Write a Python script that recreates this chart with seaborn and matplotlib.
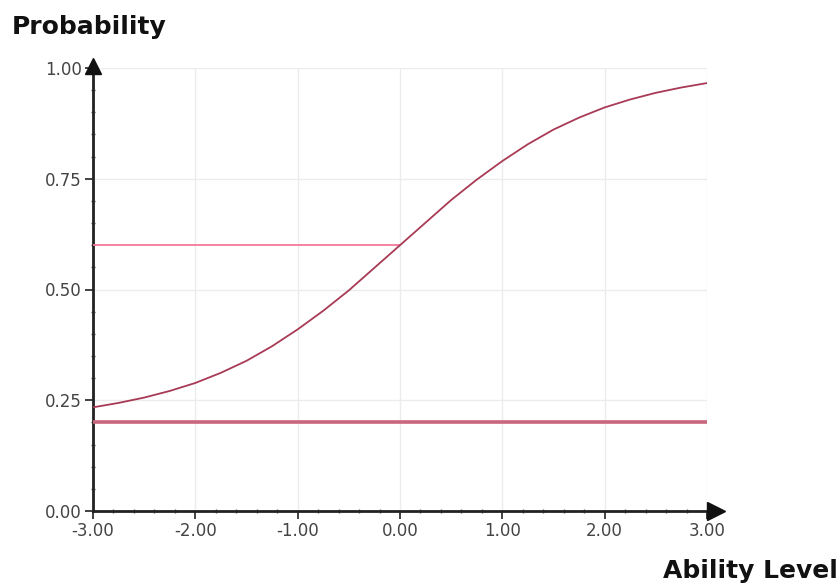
import matplotlib
matplotlib.use("Agg")
import matplotlib.pyplot as plt
from matplotlib.ticker import MultipleLocator, FormatStrFormatter
import seaborn as sns
import pandas as pd

# Data
theta = [-3.00, -2.75, -2.50, -2.25, -2.00, -1.75, -1.50, -1.25, -1.00, -0.75,
         -0.50, -0.25, 0.00, 0.25, 0.50, 0.75, 1.00, 1.25, 1.50, 1.75,
         2.00, 2.25, 2.50, 2.75, 3.00]
prob = [0.234, 0.244, 0.256, 0.271, 0.289, 0.312, 0.339, 0.372, 0.410, 0.452,
        0.498, 0.549, 0.600, 0.651, 0.702, 0.748, 0.790, 0.828, 0.861, 0.888,
        0.911, 0.929, 0.944, 0.956, 0.966]
guess_level = 0.20          # lower asymptote line
ref_theta = 0.00            # ability at reference point
ref_prob = 0.60             # probability at reference point
x_ticks = [-3.00, -2.00, -1.00, 0.00, 1.00, 2.00, 3.00]
y_ticks = [0.00, 0.25, 0.50, 0.75, 1.00]

df = pd.DataFrame({"Ability Level": theta, "Probability": prob})

sns.set_theme(style="white")
plt.rcParams["font.family"] = ["DejaVu Sans"]

fig = plt.figure(figsize=(8.4, 5.86), dpi=100)
ax = fig.add_axes([93 / 840, 75 / 586, 614 / 840, 443 / 586])

# grid
ax.set_xticks(x_ticks)
ax.set_yticks(y_ticks)
ax.grid(True, which="major", color="#ececec", linewidth=1.0)
ax.set_axisbelow(True)

# reference lines
ax.hlines(guess_level, min(theta), max(theta), color="#c9657c", linewidth=2.6, zorder=3)
ax.hlines(ref_prob, min(theta), ref_theta, color="#f27a98", linewidth=1.3, zorder=3)

# curve
sns.lineplot(data=df, x="Ability Level", y="Probability", ax=ax,
             color="#a83a55", linewidth=1.3, zorder=4)

ax.set_xlim(min(x_ticks), max(x_ticks))
ax.set_ylim(min(y_ticks), max(y_ticks))
ax.xaxis.set_major_formatter(FormatStrFormatter("%.2f"))
ax.yaxis.set_major_formatter(FormatStrFormatter("%.2f"))
ax.xaxis.set_minor_locator(MultipleLocator(0.2))
ax.yaxis.set_minor_locator(MultipleLocator(0.05))

ax.set_xlabel("")
ax.set_ylabel("")

for s in ["top", "right"]:
    ax.spines[s].set_visible(False)
for s in ["left", "bottom"]:
    ax.spines[s].set_color("#222222")
    ax.spines[s].set_linewidth(2.0)

ax.tick_params(axis="both", which="major", direction="out", length=6, width=1.3,
               color="#333333", labelsize=12, labelcolor="#444444", pad=2,
               bottom=True, left=True)
ax.tick_params(axis="both", which="minor", direction="inout", length=3, width=1.0,
               color="#555555", bottom=True, left=True)

# arrowheads on axes
ax.plot([0], [1.005], marker="^", markersize=11, color="#111111", transform=ax.transAxes,
        clip_on=False, zorder=6)
ax.plot([1.015], [0], marker=">", markersize=13, color="#111111", transform=ax.transAxes,
        clip_on=False, zorder=6)

fig.text(12 / 840, 1 - 27 / 586, "Probability", fontsize=18, fontweight="bold",
         color="#111111", ha="left", va="center")
fig.text(838 / 840, 1 - 571 / 586, "Ability Level", fontsize=18, fontweight="bold",
         color="#111111", ha="right", va="center")

fig.savefig("out.png", dpi=100, facecolor="white")
